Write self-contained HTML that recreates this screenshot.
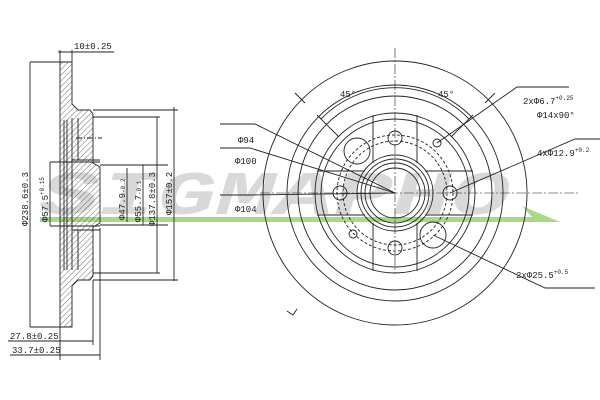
<!DOCTYPE html>
<html><head><meta charset="utf-8"><style>
html,body{margin:0;padding:0;background:#fff;}
svg{display:block;}
text{font-family:"Liberation Mono",monospace;fill:#222;}
</style></head><body>
<svg width="600" height="400" viewBox="0 0 600 400" xmlns="http://www.w3.org/2000/svg">
<defs>
<pattern id="h" width="4" height="4" patternUnits="userSpaceOnUse" patternTransform="rotate(45)">
<line x1="0" y1="0" x2="0" y2="4" stroke="#333" stroke-width="0.7"/></pattern>
</defs>
<!-- watermark -->
<text x="40" y="214" font-family="Liberation Sans" font-size="62" font-weight="bold" font-style="italic" fill="#bbb" opacity="0.55" textLength="470" lengthAdjust="spacingAndGlyphs" style="fill:#bbb">SIGMAPHO</text>
<polygon points="40,217 532,217 522,206 560,222 40,222" fill="#8ccc60" opacity="0.75"/>

<g stroke="#222" fill="none" stroke-width="0.9">
<!-- section view -->
<path d="M60,62 L72,62 L72,104 L78,110 L90,110 L93,114 L93,163 L100,167 L100,223 L93,227 L93,276 L90,280 L78,280 L72,286 L72,327 L60,327 Z" fill="url(#h)"/>
<path d="M72,118 L72,270 M78,118 L78,160 M78,230 L78,270 M72,160 L100,160 M72,230 L100,230" />
<line x1="76" y1="138" x2="102" y2="138" stroke-dasharray="6,2,1,2"/>
<line x1="64" y1="120" x2="64" y2="270"/><line x1="67" y1="120" x2="67" y2="270"/>
<!-- dims -->
<line x1="30" y1="62" x2="60" y2="62"/><line x1="30" y1="327" x2="60" y2="327"/>
<line x1="30" y1="62" x2="30" y2="327"/>
<line x1="50" y1="162" x2="50" y2="226"/><line x1="50" y1="162" x2="100" y2="162"/><line x1="50" y1="226" x2="100" y2="226"/>
<line x1="100" y1="165" x2="168" y2="165"/><line x1="100" y1="225" x2="168" y2="225"/>
<line x1="127" y1="168" x2="127" y2="222"/><line x1="143" y1="165" x2="143" y2="225"/>
<line x1="93" y1="110" x2="178" y2="110"/><line x1="93" y1="280" x2="178" y2="280"/>
<line x1="157" y1="117" x2="157" y2="273"/><line x1="174" y1="107" x2="174" y2="281"/>
<line x1="93" y1="117" x2="160" y2="117"/><line x1="93" y1="273" x2="160" y2="273"/>
<line x1="60" y1="50" x2="60" y2="62"/><line x1="72" y1="50" x2="72" y2="62"/><line x1="58" y1="52" x2="114" y2="52"/>
<line x1="8" y1="341" x2="93" y2="341"/><line x1="10" y1="355" x2="100" y2="355"/>
<line x1="93" y1="280" x2="93" y2="345"/><line x1="100" y1="228" x2="100" y2="360"/><line x1="60" y1="327" x2="60" y2="360"/>
</g>
<text x="74" y="49" font-size="9">10±0.25</text>
<text x="10" y="339" font-size="9">27.8±0.25</text>
<text x="12" y="353" font-size="9">33.7±0.25</text>
<g font-size="9">
<text transform="translate(28,226) rotate(-90)">Φ238.6±0.3</text>
<text transform="translate(48,222) rotate(-90)">Φ57.5<tspan font-size="6" dy="-4">+0.15</tspan></text>
<text transform="translate(125,220) rotate(-90)">Φ47.9<tspan font-size="6">-0.2</tspan></text>
<text transform="translate(141,222) rotate(-90)">Φ55.7<tspan font-size="6">-0.1</tspan></text>
<text transform="translate(155,226) rotate(-90)">Φ137.8±0.3</text>
<text transform="translate(172,215) rotate(-90)">Φ157±0.2</text>
</g>

<!-- front view -->
<g stroke="#222" fill="none" stroke-width="0.9" transform="translate(395,193)">
<circle r="132"/><circle r="108"/><circle r="97"/><circle r="80"/><circle r="74"/>
<circle r="38"/><circle r="34"/><circle r="30"/><circle r="25"/>
<circle r="52" stroke-dasharray="3,2"/><circle r="58" stroke-dasharray="3,2"/>
<path d="M-22,-78 L-22,-30 M22,-78 L22,-30 M-22,78 L-22,30 M22,78 L22,30 M-78,-22 L-30,-22 M-78,22 L-30,22 M78,-22 L30,-22 M78,22 L30,22"/>
<circle cx="0" cy="-55" r="7"/><circle cx="0" cy="55" r="7"/><circle cx="-55" cy="0" r="7"/><circle cx="55" cy="0" r="7"/>
<circle cx="-38" cy="-42" r="13"/><circle cx="38" cy="42" r="13"/>
<circle cx="42" cy="-50" r="4"/><circle cx="-42" cy="41" r="4"/>
<line x1="-135" y1="0" x2="185" y2="0" stroke-dasharray="10,2,2,2" stroke-width="0.6"/>
<line x1="0" y1="-145" x2="0" y2="80" stroke-dasharray="10,2,2,2" stroke-width="0.6"/>
<path d="M-74,-74 A103,103 0 0 1 74,-74" />
<line x1="-78" y1="-78" x2="-56" y2="-56"/><line x1="78" y1="-78" x2="56" y2="-56"/>
<path d="M100,-100 L90,-90 M-100,-100 L-90,-90"/>
<!-- leaders -->
<path d="M-175,-69 L-140,-69 L0,0 M-175,-45 L-145,-45 L0,0 M-175,2 L-145,2 L0,0"/>
<path d="M42,-50 L122,-106 L174,-106 M55,0 L180,-54 L220,-54 M38,42 L150,95 L200,95"/>
<path d="M-108,118 L-102,122 L-98,116"/>
</g>
<g font-size="9">
<text x="238" y="143">Φ94</text>
<text x="235" y="164">Φ100</text>
<text x="235" y="212">Φ104</text>
<text x="340" y="97">45°</text>
<text x="438" y="97">45°</text>
<text x="523" y="104">2xΦ6.7<tspan font-size="6" dy="-4">+0.25</tspan></text>
<text x="537" y="118">Φ14x90°</text>
<text x="537" y="156">4xΦ12.9<tspan font-size="6" dy="-4">+0.2</tspan></text>
<text x="516" y="278">2xΦ25.5<tspan font-size="6" dy="-4">+0.5</tspan></text>
</g>
</svg>
</body></html>
